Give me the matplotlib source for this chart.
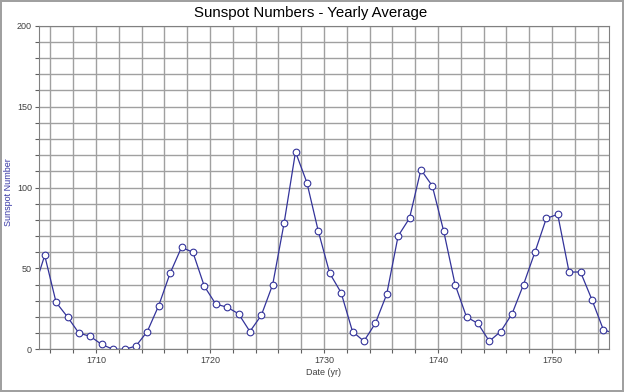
import matplotlib.pyplot as plt
from matplotlib.ticker import MultipleLocator

plt.rcParams['font.family'] = ['Liberation Sans', 'DejaVu Sans']

# Promedio anual de manchas solares (incluye 1704 y 1755 para los tramos recortados)
years = list(range(1704, 1756))
sunspots = [36, 58, 29, 20, 10, 8, 3, 0, 0, 2, 11, 27, 47, 63, 60, 39, 28, 26,
            22, 11, 21, 40, 78, 122, 103, 73, 47, 35, 11, 5, 16, 34, 70, 81, 111,
            101, 73, 40, 20, 16, 5, 11, 22, 40, 60, 80.9, 83.4, 47.7, 47.8, 30.7,
            12.2, 9.6]

x_ticks = [1710, 1720, 1730, 1740, 1750]
y_ticks = [0, 50, 100, 150, 200]

fig = plt.figure(figsize=(6.24, 3.92), dpi=100)
fig.patch.set_edgecolor('#a0a0a0')
fig.patch.set_linewidth(1.5)
ax = fig.add_axes([39 / 624, 42.7 / 392, 570 / 624, 323.6 / 392])

# puntos a mitad de año
xs = [y + 0.5 for y in years]
ax.plot(xs, sunspots, color='#33339a', linewidth=0.9, marker='o', markersize=4.8,
        markerfacecolor='white', markeredgecolor='#33339a', markeredgewidth=0.8)

ax.set_xlim(1705, 1755)
ax.set_ylim(0, 200)
ax.set_xticks(x_ticks)
ax.set_yticks(y_ticks)
ax.xaxis.set_minor_locator(MultipleLocator(2))
ax.yaxis.set_minor_locator(MultipleLocator(10))
ax.grid(True, which='both', color='#a0a0a0', linewidth=1.0)
ax.set_axisbelow(True)
ax.tick_params(which='both', direction='out', length=3, width=0.8, color='#606060',
               labelsize=6.5, labelcolor='#404040', pad=2)
for s in ax.spines.values():
    s.set_color('#808080')
    s.set_linewidth(0.8)

fig.suptitle("Sunspot Numbers - Yearly Average", x=0.498, y=0.985, fontsize=10.8)
ax.set_xlabel("Date (yr)", fontsize=6.5, color='#404040', labelpad=2)
ax.set_ylabel("Sunspot Number", fontsize=6.5, color='#3535a5')
ax.yaxis.set_label_coords(-0.045, 0.486)

plt.savefig("out.png", dpi=100)
plt.close()
